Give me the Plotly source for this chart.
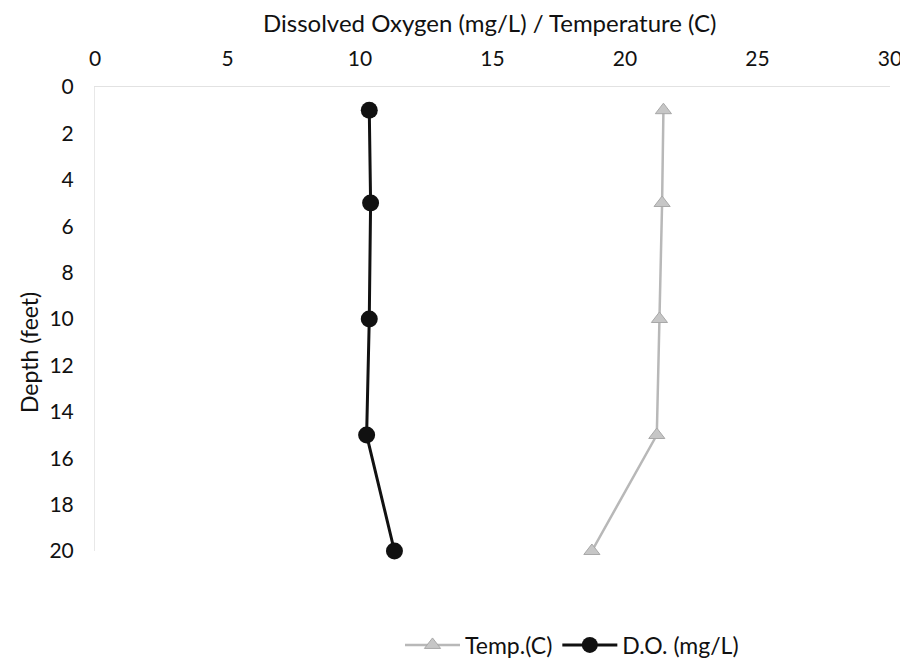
import plotly.graph_objects as go

depth = [1, 5, 10, 15, 20]
temp_c = [21.45, 21.4, 21.3, 21.2, 18.75]
do_mgl = [10.35, 10.4, 10.35, 10.25, 11.3]

x_ticks = [0, 5, 10, 15, 20, 25, 30]
y_ticks = [0, 2, 4, 6, 8, 10, 12, 14, 16, 18, 20]

FONT = "Lato, 'Open Sans', sans-serif"
OFF = 8  # page body margin
W, H = 908 - OFF, 660 - OFF
L, T = 95 - OFF, 87 - OFF
R, B = 908 - 890, 660 - 551
PW, PH = W - L - R, H - T - B


def px_x(x):
    return (x - OFF - L) / PW


def px_y(y):
    return 1 - (y - OFF - T) / PH


fig = go.Figure()
fig.add_trace(go.Scatter(
    x=temp_c, y=depth, name="Temp.(C)", mode="lines+markers",
    line=dict(color="#b8b8b8", width=2.5),
    marker=dict(symbol="triangle-up", size=14, color="#c6c6c6",
                line=dict(color="#a8a8a8", width=1)),
    cliponaxis=False,
))
fig.add_trace(go.Scatter(
    x=do_mgl, y=depth, name="D.O. (mg/L)", mode="lines+markers",
    line=dict(color="#111111", width=3),
    marker=dict(symbol="circle", size=17, color="#111111"),
    cliponaxis=False,
))

fig.update_layout(
    width=W, height=H,
    margin=dict(l=L, r=R, t=T, b=B, autoexpand=False),
    paper_bgcolor="white", plot_bgcolor="white",
    font=dict(family=FONT, size=21, color="#111111"),
    showlegend=True,
    legend=dict(orientation="h", x=px_x(400), xanchor="left",
                y=px_y(645), yanchor="middle",
                font=dict(family=FONT, size=23, color="#111111"), itemwidth=55,
                bgcolor="rgba(0,0,0,0)"),
    xaxis=dict(
        side="top", range=[0, 30], tickvals=x_ticks, ticktext=[str(v) for v in x_ticks],
        showgrid=False, zeroline=False, showline=True, linecolor="#e2e2e2", linewidth=1,
        ticks="", ticklabelstandoff=12, automargin=False,
        tickfont=dict(family=FONT, size=21, color="#111111"),
    ),
    yaxis=dict(
        range=[20, 0], tickvals=y_ticks, ticktext=[str(v) for v in y_ticks],
        showgrid=False, zeroline=False, showline=True, linecolor="#e8e8e8", linewidth=1,
        ticks="", ticklabelstandoff=16, automargin=False,
        tickfont=dict(family=FONT, size=21, color="#111111"),
    ),
    annotations=[
        dict(text="Depth (feet)", textangle=-90, xref="paper", yref="paper",
             x=px_x(29), y=px_y(353), xanchor="center", yanchor="middle",
             showarrow=False, font=dict(family=FONT, size=23, color="#111111")),
        dict(text="Dissolved Oxygen (mg/L) / Temperature (C)", xref="paper", yref="paper",
             x=px_x(489), y=px_y(22), xanchor="center", yanchor="middle",
             showarrow=False, font=dict(family=FONT, size=24, color="#111111")),
    ],
)

fig.write_html("out.html")
